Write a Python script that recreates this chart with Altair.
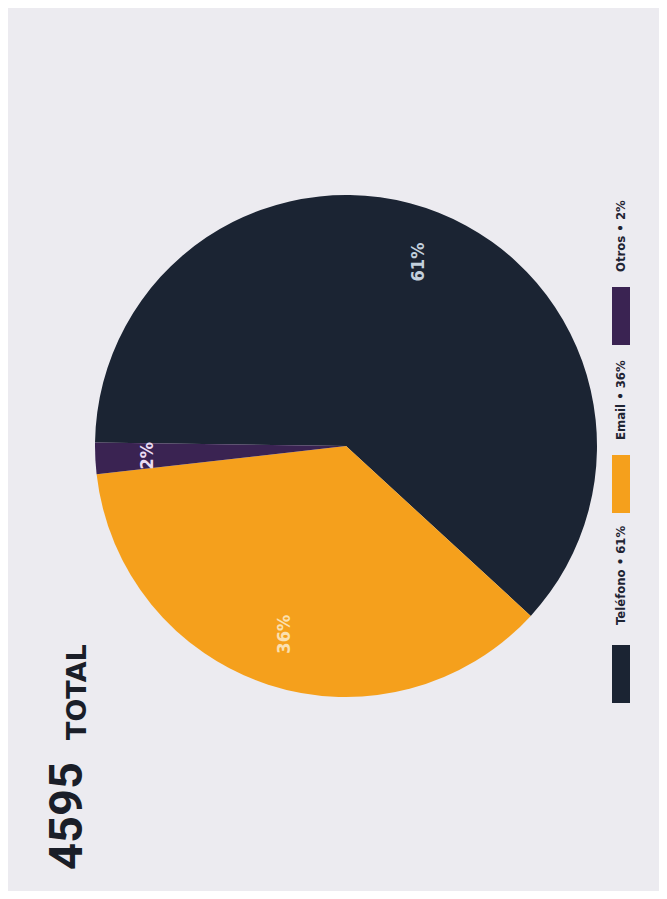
import math
import altair as alt
import pandas as pd

# ---- data ----
categories = ["Teléfono", "Email", "Otros"]
percents = [61, 36, 2]
slice_rank = [2, 0, 1]          # drawing order around the pie
total_value = "4595"
total_word = "TOTAL"

colors = ["#1b2433", "#f5a01c", "#3a2352"]
label_colors = ["#c3d0dd", "#fbe0b0", "#eadcf2"]

df = pd.DataFrame({
    "cat": categories,
    "pct": percents,
    "rank": slice_rank,
    "label": [f"{p}%" for p in percents],
    "legend": [f"{c} • {p}%" for c, p in zip(categories, percents)],
})

# plot area placed so that its centre is the pie centre
PL, PB = 25, 7
W, H = 651 - PL, 883 - PB
R = 251
OX = -PL  # shift for absolute (chart) x coordinates
start = math.radians(132.6)
theta_scale = alt.Scale(range=[start, start + 2 * math.pi])
color_scale = alt.Scale(domain=categories, range=colors)
lab_scale = alt.Scale(domain=categories, range=label_colors)

base = alt.Chart(df)

pie = base.mark_arc(outerRadius=R, stroke=None).encode(
    theta=alt.Theta("pct:Q", stack=True, scale=theta_scale),
    order=alt.Order("rank:Q"),
    color=alt.Color("cat:N", scale=color_scale, legend=None),
)

labels = base.mark_text(radius=198, angle=270, fontSize=18, fontWeight="bold",
                        font="DejaVu Sans Condensed",
                        align="center", baseline="middle").encode(
    theta=alt.Theta("pct:Q", stack=True, scale=theta_scale),
    order=alt.Order("rank:Q"),
    text="label:N",
    fill=alt.Fill("cat:N", scale=lab_scale, legend=None),
)

# legend drawn rotated, one item per category
legend_rect_y = [666, 476, 308]
legend_text_y = [617, 432, 264]
layers = [pie, labels]
for i, c in enumerate(categories):
    sub = base.transform_filter(alt.datum.cat == c)
    layers.append(sub.mark_rect(color=colors[i]).encode(
        x=alt.value(604 + OX), x2=alt.value(622 + OX),
        y=alt.value(legend_rect_y[i] - 29), y2=alt.value(legend_rect_y[i] + 29),
    ))
    layers.append(sub.mark_text(angle=270, align="left", baseline="middle",
                                fontSize=13, fontWeight="bold", font="DejaVu Sans Condensed",
                                color="#1f2433").encode(
        x=alt.value(613 + OX), y=alt.value(legend_text_y[i]), text="legend:N",
    ))

title_df = pd.DataFrame({"t": [total_value], "w": [total_word]})
tbase = alt.Chart(title_df)
layers.append(tbase.mark_text(angle=270, align="left", baseline="alphabetic",
                              fontSize=47, fontWeight="bold", font="Roboto",
                              color="#1a1e28").encode(
    x=alt.value(74 + OX), y=alt.value(862), text="t:N"))
layers.append(tbase.mark_text(angle=270, align="left", baseline="alphabetic",
                              fontSize=27, fontWeight="bold", font="DejaVu Sans",
                              color="#1a1e28").encode(
    x=alt.value(78 + OX), y=alt.value(732), text="w:N"))

chart = alt.layer(*layers).resolve_scale(color="independent", fill="independent").properties(
    width=W, height=H, background="#ecebf0",
    padding={"left": PL, "top": 0, "right": 0, "bottom": PB},
    autosize=alt.AutoSizeParams(type="none"),
).configure_view(stroke=None)

chart.save("out.html", embed_options={"renderer": "svg", "actions": False})
